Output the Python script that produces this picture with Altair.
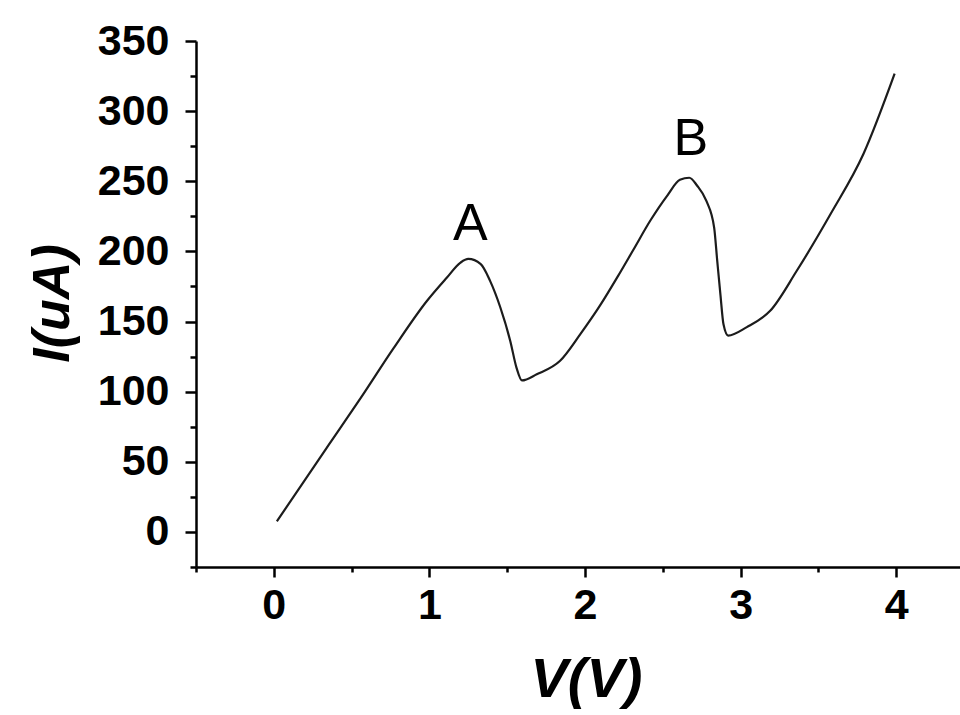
import altair as alt
import pandas as pd

# Curve (V in volts, I in microamps)
V = [0.02, 0.34, 0.56, 0.77, 0.985, 1.11, 1.20, 1.25, 1.33, 1.39, 1.456, 1.52, 1.56,
     1.595, 1.69, 1.84, 1.97, 2.10, 2.21, 2.31, 2.42, 2.53, 2.61, 2.67, 2.72, 2.78,
     2.83, 2.85, 2.87, 2.89, 2.92, 3.04, 3.19, 3.36, 3.58, 3.79, 3.99]
I = [7.6, 60, 95.7, 131, 164.8, 181, 192, 194.6, 191, 179, 160, 136, 117,
     108, 112.4, 122, 141, 162, 182, 201, 222, 240, 251, 252.5, 247, 236,
     217, 193, 169.6, 148, 140, 146, 157.6, 186, 227, 269.6, 326.7]

label_text = ["A", "B"]
label_v = [1.263, 2.68]
label_i = [219.8, 279.8]

x_major = [0, 1, 2, 3, 4]
x_minor = [-0.5, 0.5, 1.5, 2.5, 3.5]
y_major = [0, 50, 100, 150, 200, 250, 300, 350]
y_minor = [-25, 25, 75, 125, 175, 225, 275, 325]

curve = pd.DataFrame({"V": V, "I": I})
labels = pd.DataFrame({"t": label_text, "V": label_v, "I": label_i})

x_scale = alt.Scale(domain=[-0.5, 4.41], nice=False, zero=False)
y_scale = alt.Scale(domain=[-25, 350], nice=False, zero=False)

x_axis = alt.Axis(
    values=x_major, format="d", orient="bottom",
    grid=False,
    domainColor="black", domainWidth=2.5,
    tickColor="black", tickWidth=2.5, tickSize=10,
    labelFont="Liberation Sans", labelFontWeight="bold", labelFontSize=43,
    labelColor="black", labelPadding=7, labelFlush=False, labelOverlap=False,
    title="V(V)", titleFont="Liberation Sans", titleFontWeight="bold",
    titleFontStyle="italic", titleFontSize=56, titleColor="black",
    titleX=390, titleY=112, titleBaseline="middle", titleAlign="center",
)
y_axis = alt.Axis(
    values=y_major, format="d", orient="left",
    grid=False,
    domainColor="black", domainWidth=2.5,
    tickColor="black", tickWidth=2.5, tickSize=11,
    labelFont="Liberation Sans", labelFontWeight="bold", labelFontSize=43,
    labelColor="black", labelPadding=16, labelFlush=False, labelOverlap=False,
    title="I(uA)", titleFont="Liberation Sans", titleFontWeight="bold",
    titleFontStyle="italic", titleFontSize=52, titleColor="black",
    titleX=-144, titleY=262, titleAngle=270, titleBaseline="middle", titleAlign="center",
)
x_axis_minor = alt.Axis(
    values=x_minor, orient="bottom", grid=False, domain=False, labels=False,
    tickColor="black", tickWidth=2.5, tickSize=5, title="",
)
y_axis_minor = alt.Axis(
    values=y_minor, orient="left", grid=False, domain=False, labels=False,
    tickColor="black", tickWidth=2.5, tickSize=6, title="",
)

line = alt.Chart(curve).mark_line(color="#1c1c1c", strokeWidth=2.2, interpolate="monotone").encode(
    x=alt.X("V:Q", scale=x_scale, axis=x_axis),
    y=alt.Y("I:Q", scale=y_scale, axis=y_axis),
)

minor = alt.Chart(curve).mark_line(opacity=0).encode(
    x=alt.X("V:Q", scale=x_scale, axis=x_axis_minor),
    y=alt.Y("I:Q", scale=y_scale, axis=y_axis_minor),
)

text = alt.Chart(labels).mark_text(
    font="Liberation Sans", fontSize=52, color="black", baseline="middle", align="center"
).encode(
    x=alt.X("V:Q", scale=x_scale, axis=None),
    y=alt.Y("I:Q", scale=y_scale, axis=None),
    text="t:N",
)

chart = alt.layer(line, minor, text).resolve_axis(
    x="independent", y="independent"
).properties(
    width=764, height=526,
    autosize=alt.AutoSizeParams(type="none"),
    padding={"left": 196, "top": 41, "right": 0, "bottom": 148},
    background="white",
).configure_view(stroke=None)

chart.save("out.html", embed_options={"renderer": "svg", "actions": False})
